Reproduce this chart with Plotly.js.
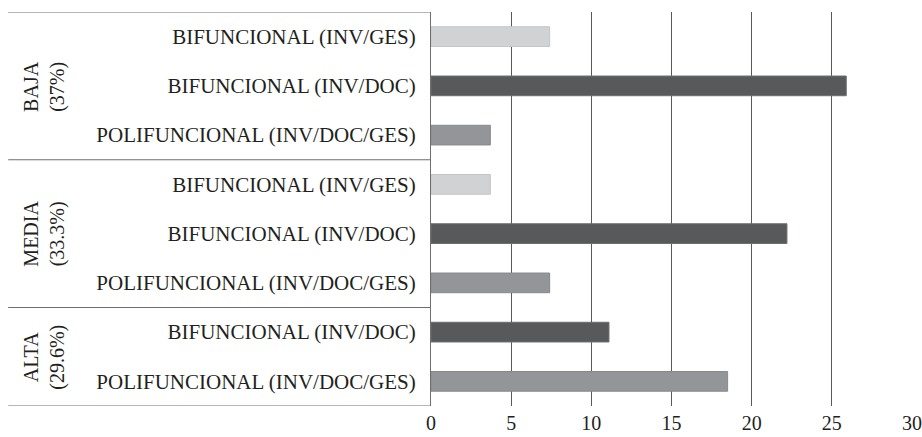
<!DOCTYPE html>
<html>
<head>
<meta charset="utf-8">
<script src="https://cdn.plot.ly/plotly-3.0.1.min.js"></script>
<style>html,body{margin:0;padding:0;background:#fff}#chart{width:922px;height:437px}</style>
</head>
<body>
<div id="chart"></div>
<script>
var categories = [
  "BIFUNCIONAL (INV/GES)",
  "BIFUNCIONAL (INV/DOC)",
  "POLIFUNCIONAL (INV/DOC/GES)",
  "BIFUNCIONAL (INV/GES)",
  "BIFUNCIONAL (INV/DOC)",
  "POLIFUNCIONAL (INV/DOC/GES)",
  "BIFUNCIONAL (INV/DOC)",
  "POLIFUNCIONAL (INV/DOC/GES)"
];
var groups = ["BAJA", "BAJA", "BAJA", "MEDIA", "MEDIA", "MEDIA", "ALTA", "ALTA"];
var groupLabels = ["BAJA<br>(37%)", "MEDIA<br>(33.3%)", "ALTA<br>(29.6%)"];
var groupNames = ["BAJA", "MEDIA", "ALTA"];
var values = [7.4, 25.9, 3.7, 3.7, 22.2, 7.4, 11.1, 18.5];
var xTicks = [0, 5, 10, 15, 20, 25, 30];

var typeColors = {
  "BIFUNCIONAL (INV/GES)": "#d1d2d4",
  "BIFUNCIONAL (INV/DOC)": "#58595b",
  "POLIFUNCIONAL (INV/DOC/GES)": "#939598"
};
var typeEdge = {
  "BIFUNCIONAL (INV/GES)": "#c4c5c7",
  "BIFUNCIONAL (INV/DOC)": "#6d6e70",
  "POLIFUNCIONAL (INV/DOC/GES)": "#88898c"
};

var idx = categories.map(function(_, i){ return i; });

var trace = {
  type: "bar",
  orientation: "h",
  x: values,
  y: idx,
  width: 0.4,
  marker: {
    color: categories.map(function(c){ return typeColors[c]; }),
    line: { color: categories.map(function(c){ return typeEdge[c]; }), width: 1 }
  },
  hoverinfo: "x",
  showlegend: false
};

var font = "Liberation Serif, Times New Roman, serif";
var fsize = 21;

var shapes = [];
var annotations = [];
var boundaries = [-0.5];
groupNames.forEach(function(g, gi){
  var members = idx.filter(function(i){ return groups[i] === g; });
  var lo = Math.min.apply(null, members), hi = Math.max.apply(null, members);
  boundaries.push(hi + 0.5);
  annotations.push({
    xref: "paper", yref: "y",
    x: -0.8025, y: (lo + hi) / 2,
    text: groupLabels[gi],
    showarrow: false,
    textangle: -90,
    xanchor: "center", yanchor: "middle",
    font: { family: font, size: fsize - 1, color: "#231f20" }
  });
});
boundaries.forEach(function(b){
  shapes.push({
    type: "line", xref: "paper", yref: "y",
    x0: -0.879, x1: 0, y0: b, y1: b,
    line: { color: "#6d6e70", width: 1 }
  });
});

var layout = {
  width: 922, height: 437,
  margin: { l: 431, r: 10, t: 12, b: 31, pad: 0 },
  paper_bgcolor: "#fff", plot_bgcolor: "#fff",
  xaxis: {
    range: [0, 30],
    tickvals: xTicks,
    ticktext: xTicks.map(String),
    showgrid: true,
    gridcolor: "#58595b",
    gridwidth: 1,
    zeroline: false,
    showline: false,
    ticks: "",
    ticklabelstandoff: 3,
    ticklabeloverflow: "allow",
    tickfont: { family: font, size: fsize - 1, color: "#231f20" },
    fixedrange: true
  },
  yaxis: {
    range: [7.5, -0.5],
    tickvals: idx,
    ticktext: categories,
    showgrid: false,
    zeroline: false,
    showline: true,
    linecolor: "#6d6e70",
    linewidth: 1,
    ticks: "",
    ticklabelstandoff: 10,
    ticklabeloverflow: "allow",
    tickfont: { family: font, size: fsize, color: "#231f20" },
    fixedrange: true
  },
  shapes: shapes,
  annotations: annotations
};

Plotly.newPlot("chart", [trace], layout, { displayModeBar: false, staticPlot: true });
</script>
</body>
</html>
